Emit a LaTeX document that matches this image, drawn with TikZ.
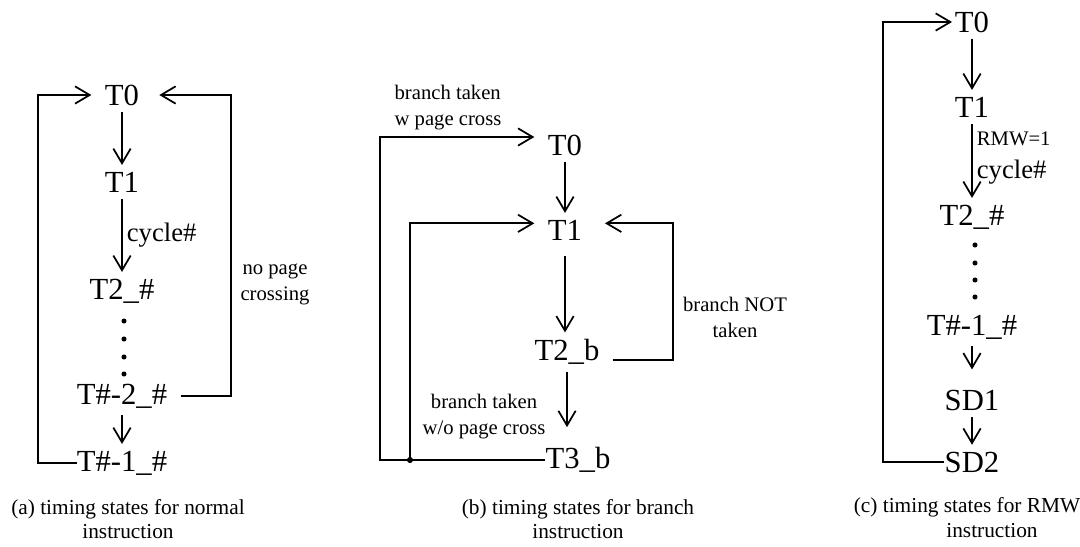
\documentclass[tikz,border=0pt]{standalone}
\usepackage{fontspec}
\setmainfont{Liberation Serif}
\usetikzlibrary{arrows.meta}

\tikzset{
  state/.style={inner xsep=10pt,inner ysep=5pt,font=\fontsize{23}{27}\selectfont},
  cond/.style={inner sep=0pt,align=center,font=\fontsize{15.5}{19.5}\selectfont},
  cyc/.style={inner sep=3pt,anchor=west,font=\fontsize{20}{24}\selectfont},
  rmw/.style={inner sep=3pt,anchor=west,font=\fontsize{15.5}{18}\selectfont},
  captxt/.style={inner sep=0pt,align=center,font=\fontsize{16}{18}\selectfont},
  wire/.style={line width=1.3pt},
  flow/.style={wire,-{Straight Barb[length=11pt,width=13pt]}},
}

\begin{document}
\begin{tikzpicture}[x=0.75pt,y=-0.75pt]
  \useasboundingbox (0,0) rectangle (1080,546);

  % (a) normal instruction
  \foreach \n/\y/\lbl in {0/95/{T0}, 1/182/{T1}, 2/291/{T2\_\#}, 3/396/{T\#-2\_\#}, 4/463/{T\#-1\_\#}}
    \node[state] (ta\n) at (122,\y) {\lbl};
  \foreach \y in {321,339,357,374}
    \fill (124,\y) circle (1.9pt);
  \coordinate (loopa) at (38,0);
  \coordinate (backa) at (231,0);
  \draw[flow] (ta0) -- (ta1);
  \draw[flow] (ta1) -- node[cyc] (cyca) {cycle\#} (ta2);
  \draw[flow] (ta3) -- (ta4);
  \draw[flow,shorten <=-10pt] (ta4.west) -- (ta4.west -| loopa) |- (ta0.west);
  \draw[flow,shorten >=5pt] (ta3.east) -- (ta3.east -| backa) |- (ta0.east);
  \node[cond] (nopage) at (275,284) {no page\\crossing};

  % (b) branch instruction
  \foreach \n/\x/\y/\lbl in {0/565/145/{T0}, 1/565/230/{T1}, 2/567/352/{T2\_b}, 3/578/460/{T3\_b}}
    \node[state] (tb\n) at (\x,\y) {\lbl};
  \coordinate (outb) at (380,0);
  \coordinate (innb) at (410,0);
  \coordinate (backb) at (673,0);
  \coordinate (dotb) at (tb3.west -| innb);
  \draw[flow] (tb0) -- (tb1);
  \draw[flow,shorten <=7pt] (tb1.south) -- (tb1.south |- tb2.north);
  \draw[flow,shorten >=10pt] (tb2.south) -- (tb2.south |- tb3.north);
  \draw[flow,shorten <=-10pt] (tb3.west) -- (tb3.west -| outb) |- ([yshift=6pt]tb0.west);
  \draw[flow] (dotb) |- ([yshift=5pt]tb1.west);
  \fill (dotb) circle (2.3pt);
  \draw[flow,shorten >=7pt] ([yshift=-6pt]tb2.east) -- ([yshift=-6pt]tb2.east -| backb) |- ([yshift=5pt]tb1.east);
  \node[cond,align=left] (takenw) at (448,108) {branch taken\\w page cross};
  \node[cond] (takenwo) at (484,417) {branch taken\\w/o page cross};
  \node[cond] (nottaken) at (735,317) {branch NOT\\taken};

  % (c) RMW instruction
  \foreach \n/\y/\lbl in {0/22/{T0}, 1/107/{T1}, 2/217/{T2\_\#}, 3/327/{T\#-1\_\#}, 4/400/{SD1}, 5/462/{SD2}}
    \node[state] (tc\n) at (972,\y) {\lbl};
  \foreach \y in {245,263,280,297}
    \fill (975,\y) circle (1.9pt);
  \coordinate (loopc) at (883,0);
  \draw[flow] (tc0) -- (tc1);
  \draw[flow] (tc1) -- node[rmw,pos=0.2] (rmwc) {RMW=1} node[cyc,pos=0.65] (cycc) {cycle\#} (tc2);
  \draw[flow,shorten >=10pt] (tc3) -- (tc4);
  \draw[flow] (tc4) -- (tc5);
  \draw[flow,shorten <=-10pt,shorten >=-8pt] (tc5.west) -- (tc5.west -| loopc) |- (tc0.west);

  % captions
  \node[captxt] (capa) at (128,519) {(a) timing states for normal\\instruction};
  \node[captxt] (capb) at (578,519) {(b) timing states for branch\\instruction};
  \node[captxt] (capc) at (967,507) {(c) timing states for RMW};
  \node[captxt] (capc2) at (992,531) {instruction};
\end{tikzpicture}
\end{document}
